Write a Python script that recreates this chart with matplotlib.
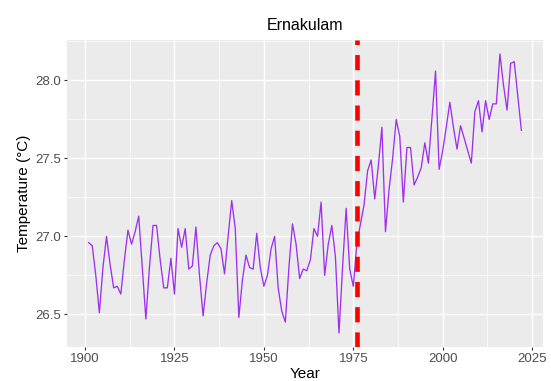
import numpy as np
import matplotlib
matplotlib.use('Agg')
import matplotlib.pyplot as plt
from matplotlib.ticker import MultipleLocator

plt.rcParams['font.family'] = ['Liberation Sans', 'DejaVu Sans']

years = list(range(1901, 2023))
temp = [
    26.96, 26.94, 26.75, 26.51, 26.80, 27.00, 26.82, 26.67, 26.68, 26.63,  # 1901-1910
    26.85, 27.04, 26.95, 27.03, 27.13, 26.80, 26.47, 26.80, 27.07, 27.07,  # 1911-1920
    26.85, 26.67, 26.67, 26.86, 26.63, 27.05, 26.93, 27.05, 26.79, 26.81,  # 1921-1930
    27.06, 26.75, 26.49, 26.70, 26.88, 26.94, 26.96, 26.92, 26.76, 27.00,  # 1931-1940
    27.23, 27.05, 26.48, 26.72, 26.88, 26.80, 26.79, 27.02, 26.80, 26.68,  # 1941-1950
    26.75, 26.92, 27.00, 26.67, 26.52, 26.45, 26.80, 27.08, 26.95, 26.73,  # 1951-1960
    26.79, 26.78, 26.85, 27.05, 27.00, 27.22, 26.75, 26.95, 27.07, 26.87,  # 1961-1970
    26.38, 26.80, 27.18, 26.79, 26.68, 26.95, 27.08, 27.20, 27.42, 27.49,  # 1971-1980
    27.24, 27.45, 27.70, 27.03, 27.30, 27.50, 27.75, 27.64, 27.22, 27.57,  # 1981-1990
    27.57, 27.33, 27.38, 27.44, 27.60, 27.47, 27.76, 28.06, 27.43, 27.55,  # 1991-2000
    27.70, 27.86, 27.70, 27.56, 27.71, 27.63, 27.55, 27.47, 27.80, 27.87,  # 2001-2010
    27.67, 27.87, 27.75, 27.85, 27.85, 28.17, 27.97, 27.81, 28.11, 28.12,  # 2011-2020
    27.90, 27.68,                                                          # 2021-2022
]
break_year = 1976

fig = plt.figure(figsize=(5.51, 3.81), dpi=100)
ax = fig.add_axes([0.1216, 0.0892, 0.8639, 0.8058])
ax.set_facecolor('#EBEBEB')

ax.plot(years, temp, color='#A030F0', linewidth=0.95, zorder=3)
ax.axvline(break_year, color='#FF0000', linewidth=3.3, linestyle=(0, (3.3, 2.2)), zorder=4)

# ggplot-style expansion of 5%
xr = years[-1] - years[0]
ax.set_xlim(years[0] - 0.05 * xr, years[-1] + 0.05 * xr)
yr = max(temp) - min(temp)
ax.set_ylim(min(temp) - 0.05 * yr, max(temp) + 0.05 * yr)

ax.set_xticks([1900, 1925, 1950, 1975, 2000, 2025])
ax.set_yticks([26.5, 27.0, 27.5, 28.0])
ax.set_yticklabels(['26.5', '27.0', '27.5', '28.0'])
ax.xaxis.set_minor_locator(MultipleLocator(12.5))
ax.yaxis.set_minor_locator(MultipleLocator(0.25))
ax.grid(which='major', color='white', linewidth=1.0, zorder=0)
ax.grid(which='minor', color='white', linewidth=0.5, zorder=0)
ax.set_axisbelow(True)
for s in ax.spines.values():
    s.set_visible(False)
ax.tick_params(which='major', length=2.5, width=0.8, color='#333333',
               labelcolor='#4D4D4D', labelsize=9.5, pad=2)
ax.tick_params(which='minor', length=0)

ax.set_title('Ernakulam', fontsize=11.5, color='black', pad=7)
ax.set_xlabel('Year', fontsize=11, color='black', labelpad=1)
ax.set_ylabel('Temperature (°C)', fontsize=11, color='black', labelpad=3)

fig.savefig('out.png', dpi=100)
